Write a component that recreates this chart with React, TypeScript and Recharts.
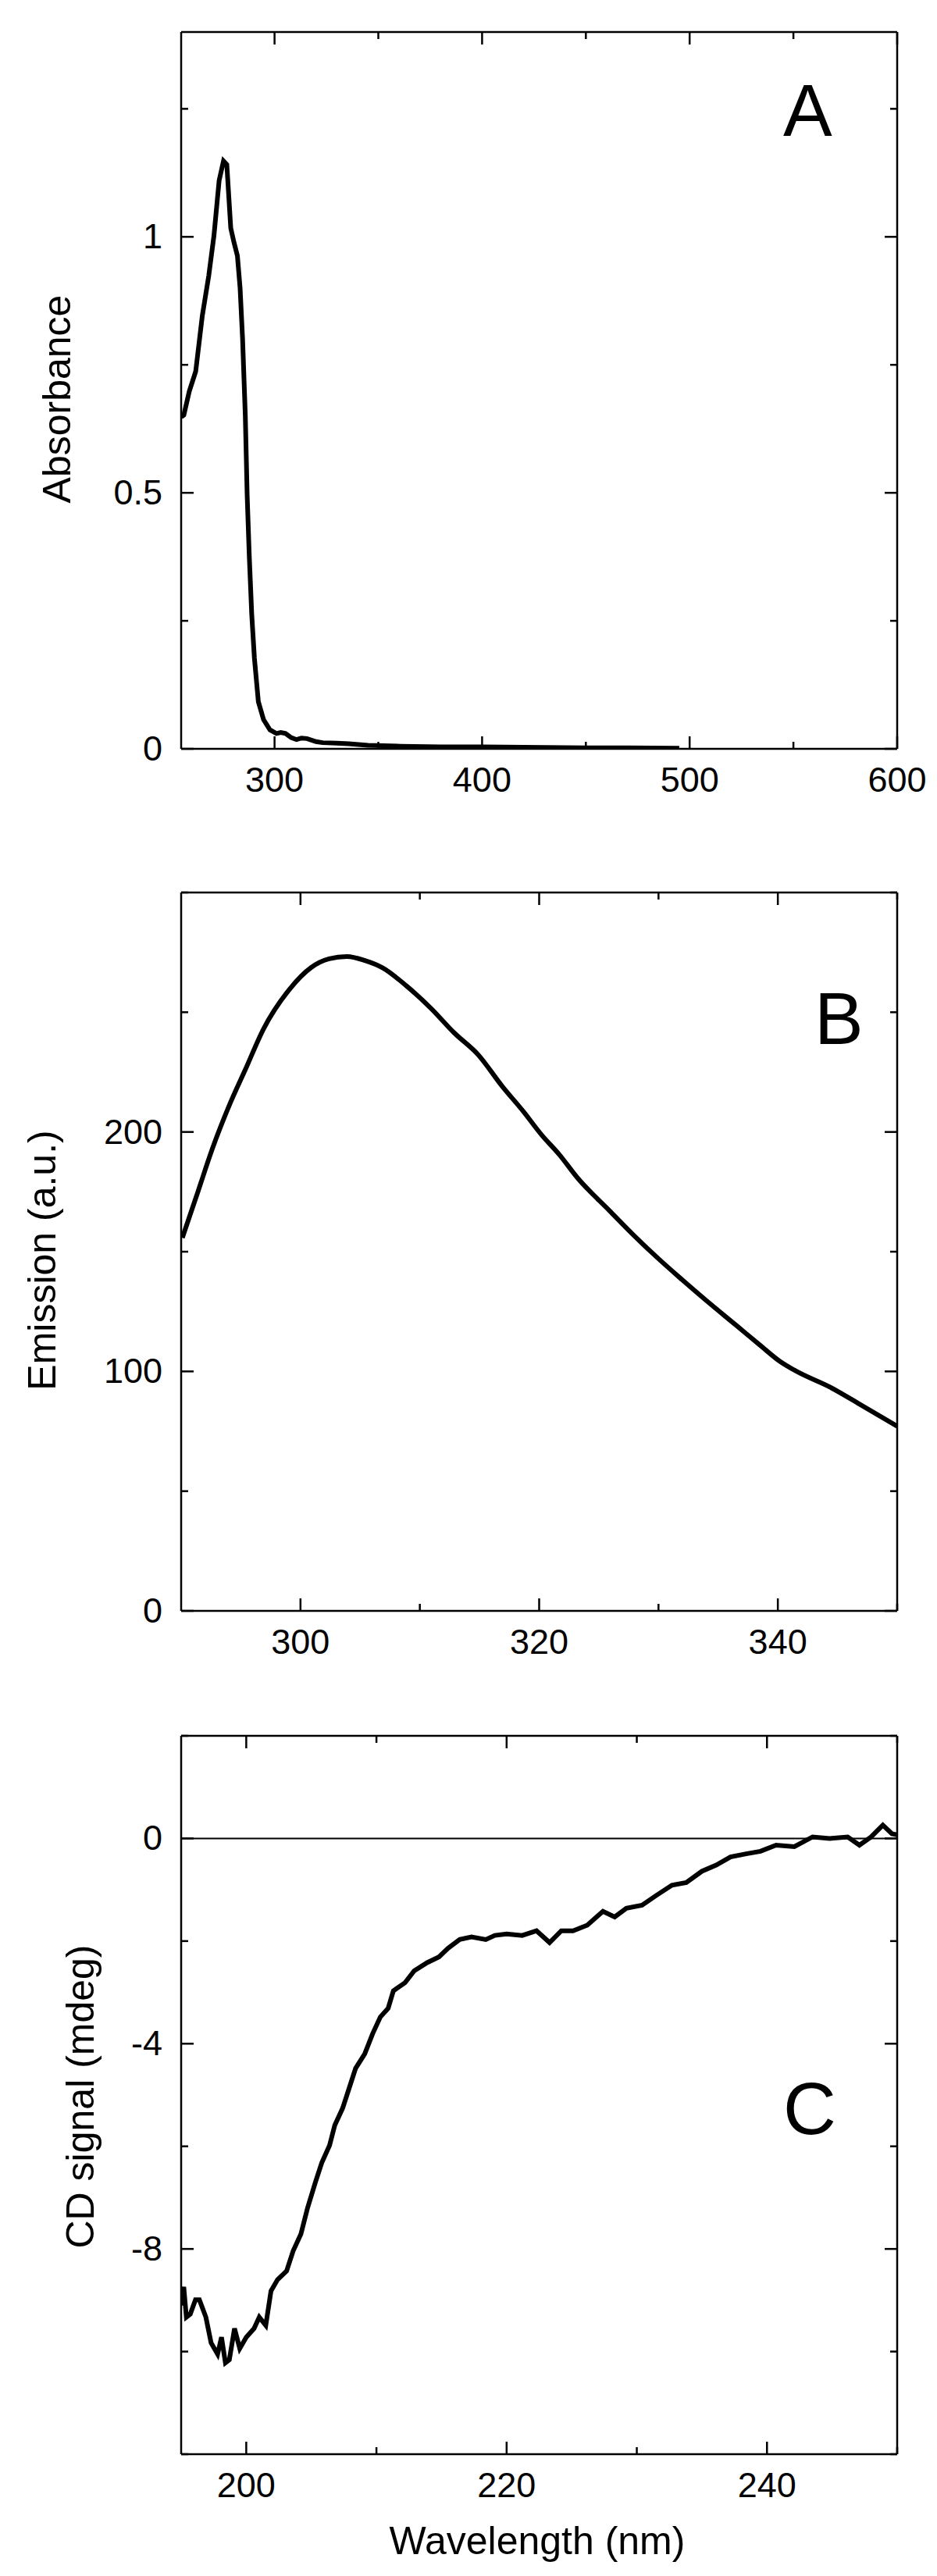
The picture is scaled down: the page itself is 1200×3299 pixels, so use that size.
import React from 'react';
import { LineChart, Line, XAxis, YAxis, ReferenceLine } from 'recharts';

// panel A - absorbance spectrum
const absWavelength = [255, 256.3, 258.9, 262, 265.2, 268.3, 270.8, 273.3, 275.4, 277.0, 278.9, 280.4, 282.1, 283.4, 284.6, 285.9, 286.8, 287.8, 289.0, 290.3, 292.2, 294.7, 297.8, 300.9, 303, 305.3, 308, 310.6, 313, 315.6, 320, 323.2, 330, 335.8, 345, 360.9, 380, 400, 420, 450, 470, 495];
const absValues = [0.648, 0.652, 0.698, 0.737, 0.846, 0.924, 1.002, 1.11, 1.148, 1.141, 1.017, 0.99, 0.963, 0.9, 0.8, 0.652, 0.496, 0.379, 0.263, 0.177, 0.092, 0.057, 0.037, 0.03, 0.032, 0.03, 0.022, 0.018, 0.021, 0.02, 0.014, 0.012, 0.011, 0.01, 0.007, 0.005, 0.004, 0.004, 0.003, 0.002, 0.002, 0.001];

// panel B - emission spectrum
const emWavelength = [290.1, 291.35, 292.6, 294.1, 295.4, 296.9, 299.1, 300.9, 302.4, 303.9, 305.4, 306.9, 308.9, 310.9, 312.9, 314.9, 316.9, 318.7, 320.2, 321.7, 323.2, 325.9, 327.9, 329.9, 331.95, 334.0, 336.5, 338.5, 340.2, 341.5, 344.5, 347.0, 350];
const emValues = [155.8, 174.2, 192.8, 211.9, 226.3, 243.0, 259.7, 268.7, 272.3, 273.3, 271.6, 268.5, 260.9, 251.8, 241.3, 232.2, 219.1, 208.4, 198.8, 190.5, 180.9, 167.1, 157.0, 147.5, 138.4, 129.6, 119.3, 111.0, 104.1, 100.2, 93.1, 85.9, 77.1];

// panel C - CD spectrum
const cdWavelength = [195, 195.2, 195.4, 195.7, 196.1, 196.4, 196.9, 197.3, 197.8, 198.1, 198.4, 198.7, 199.1, 199.5, 200.0, 200.6, 201.0, 201.5, 201.9, 202.4, 203.1, 203.6, 204.2, 204.7, 205.3, 205.8, 206.4, 206.8, 207.4, 207.9, 208.4, 209.1, 209.7, 210.3, 210.9, 211.3, 212.2, 212.9, 213.9, 214.8, 215.5, 216.4, 217.3, 218.4, 219.1, 220.0, 221.2, 222.3, 223.3, 224.2, 225.1, 226.2, 227.4, 228.3, 229.2, 230.4, 231.5, 232.7, 233.8, 235.0, 236.1, 237.2, 238.4, 239.5, 240.7, 242.1, 243.5, 244.8, 246.2, 247.1, 248.0, 248.9, 249.6, 250];
const cdValues = [-9.1, -8.74, -9.33, -9.27, -8.99, -8.99, -9.33, -9.83, -10.05, -9.72, -10.22, -10.16, -9.55, -9.94, -9.72, -9.55, -9.33, -9.49, -8.82, -8.6, -8.43, -8.04, -7.71, -7.21, -6.71, -6.32, -5.98, -5.59, -5.26, -4.87, -4.48, -4.2, -3.81, -3.48, -3.31, -2.97, -2.81, -2.58, -2.42, -2.31, -2.14, -1.97, -1.92, -1.97, -1.89, -1.86, -1.89, -1.8, -2.03, -1.8, -1.8, -1.69, -1.42, -1.53, -1.36, -1.3, -1.11, -0.91, -0.86, -0.64, -0.52, -0.36, -0.3, -0.25, -0.13, -0.16, 0.03, 0.0, 0.03, -0.13, 0.03, 0.26, 0.09, 0.07];

// ticks
const absXMajor = [300, 400, 500, 600];
const absXMinor = [350, 450, 550];
const absYMajor = [0, 0.5, 1];
const absYMinor = [0.25, 0.75, 1.25];
const emXMajor = [300, 320, 340];
const emXMinor = [310, 330, 350];
const emYMajor = [0, 100, 200];
const emYMinor = [50, 150, 250, 300];
const cdXMajor = [200, 220, 240];
const cdXMinor = [210, 230, 250];
const cdYMajor = [0, -4, -8];
const cdYMinor = [2, -2, -6, -10, -12];

const absData = absWavelength.map((x, i) => ({ x, y: absValues[i] }));
const emData = emWavelength.map((x, i) => ({ x, y: emValues[i] }));
const cdData = cdWavelength.map((x, i) => ({ x, y: cdValues[i] }));

const FONT = '"Liberation Sans", Arial, sans-serif';
const W = 1200;
const PLOT_LEFT = 232;
const PLOT_RIGHT = 1149;
const Y_AXIS_W = 100;
const X_AXIS_H = 60;

type Side = 'bottom' | 'top' | 'left' | 'right';

// draws inward tick marks (long for major, short for minor) plus outer labels
const makeTick = (side: Side, majors: number[], labelled: boolean) => (props: any) => {
  const { x, y, payload } = props;
  const v = payload.value;
  const major = majors.some((m) => Math.abs(m - v) < 1e-9);
  const len = major ? 16 : 9;
  let x2 = x;
  let y2 = y;
  if (side === 'bottom') y2 = y - len;
  if (side === 'top') y2 = y + len;
  if (side === 'left') x2 = x + len;
  if (side === 'right') x2 = x - len;
  let label = null;
  if (labelled && major) {
    if (side === 'bottom') {
      label = (
        <text x={x} y={y + 55} textAnchor="middle" fontSize={45} fontFamily={FONT} fill="#000">
          {String(v)}
        </text>
      );
    } else if (side === 'left') {
      label = (
        <text x={x - 24} y={y + 15} textAnchor="end" fontSize={45} fontFamily={FONT} fill="#000">
          {String(v)}
        </text>
      );
    }
  }
  return (
    <g>
      <line x1={x} y1={y} x2={x2} y2={y2} stroke="#000" strokeWidth={2.5} />
      {label}
    </g>
  );
};

const axisLine = { stroke: '#000', strokeWidth: 2.5 };

interface PanelProps {
  data: { x: number; y: number }[];
  height: number;
  top: number;
  bottom: number;
  xDomain: [number, number];
  yDomain: [number, number];
  xMajor: number[];
  xMinor: number[];
  yMajor: number[];
  yMinor: number[];
  smooth?: boolean;
  zeroLine?: boolean;
}

const Panel: React.FC<PanelProps> = ({ data, height, top, bottom, xDomain, yDomain, xMajor, xMinor, yMajor, yMinor, smooth, zeroLine }) => {
  const xTicks = [...xMajor, ...xMinor].sort((a, b) => a - b);
  const yTicks = [...yMajor, ...yMinor].sort((a, b) => a - b);
  return (
    <LineChart
      width={W}
      height={height}
      data={data}
      margin={{ top: top - 1, right: W - PLOT_RIGHT - 1, bottom: bottom - X_AXIS_H, left: PLOT_LEFT - Y_AXIS_W }}
    >
      <XAxis
        dataKey="x"
        type="number"
        domain={xDomain}
        allowDataOverflow
        ticks={xTicks}
        interval={0}
        height={X_AXIS_H}
        tickSize={0}
        tickMargin={0}
        tickLine={false}
        axisLine={axisLine}
        tick={makeTick('bottom', xMajor, true)}
      />
      <XAxis
        xAxisId="top"
        orientation="top"
        dataKey="x"
        type="number"
        domain={xDomain}
        allowDataOverflow
        ticks={xTicks}
        interval={0}
        height={1}
        tickSize={0}
        tickMargin={0}
        tickLine={false}
        axisLine={axisLine}
        tick={makeTick('top', xMajor, false)}
      />
      <YAxis
        type="number"
        domain={yDomain}
        allowDataOverflow
        ticks={yTicks}
        interval={0}
        width={Y_AXIS_W}
        tickSize={0}
        tickMargin={0}
        tickLine={false}
        axisLine={axisLine}
        tick={makeTick('left', yMajor, true)}
      />
      <YAxis
        yAxisId="right"
        orientation="right"
        type="number"
        domain={yDomain}
        allowDataOverflow
        ticks={yTicks}
        interval={0}
        width={1}
        tickSize={0}
        tickMargin={0}
        tickLine={false}
        axisLine={axisLine}
        tick={makeTick('right', yMajor, false)}
      />
      {zeroLine && <ReferenceLine y={0} stroke="#000" strokeWidth={2} />}
      <Line
        type={smooth ? 'monotone' : 'linear'}
        dataKey="y"
        stroke="#000"
        strokeWidth={6}
        dot={false}
        isAnimationActive={false}
      />
    </LineChart>
  );
};

const textStyle: React.CSSProperties = {
  position: 'absolute',
  fontFamily: FONT,
  color: '#000',
  lineHeight: 1,
  whiteSpace: 'nowrap',
};

const YTitle: React.FC<{ text: string; cx: number; cy: number }> = ({ text, cx, cy }) => (
  <div
    style={{
      ...textStyle,
      fontSize: 50,
      left: cx,
      top: cy,
      transform: 'translate(-50%, -50%) rotate(-90deg)',
    }}
  >
    {text}
  </div>
);

const PanelLetter: React.FC<{ text: string; left: number; top: number }> = ({ text, left, top }) => (
  <div style={{ ...textStyle, fontSize: 94, left, top }}>{text}</div>
);

export default function App() {
  return (
    <div style={{ position: 'absolute', left: 0, top: 0, width: W, height: 3299, background: '#fff', overflow: 'hidden' }}>
      <div style={{ position: 'absolute', left: 0, top: 0 }}>
        <Panel
          data={absData}
          height={1100}
          top={41}
          bottom={141}
          xDomain={[255, 600]}
          yDomain={[0, 1.4]}
          xMajor={absXMajor}
          xMinor={absXMinor}
          yMajor={absYMajor}
          yMinor={absYMinor}
        />
      </div>
      <div style={{ position: 'absolute', left: 0, top: 1100 }}>
        <Panel
          data={emData}
          height={1050}
          top={43}
          bottom={87}
          xDomain={[290, 350]}
          yDomain={[0, 300]}
          xMajor={emXMajor}
          xMinor={emXMinor}
          yMajor={emYMajor}
          yMinor={emYMinor}
          smooth
        />
      </div>
      <div style={{ position: 'absolute', left: 0, top: 2150 }}>
        <Panel
          data={cdData}
          height={1149}
          top={73}
          bottom={156}
          xDomain={[195, 250]}
          yDomain={[-12, 2]}
          xMajor={cdXMajor}
          xMinor={cdXMinor}
          yMajor={cdYMajor}
          yMinor={cdYMinor}
          zeroLine
        />
      </div>

      <YTitle text="Absorbance" cx={73} cy={511} />
      <YTitle text="Emission (a.u.)" cx={54} cy={1614} />
      <YTitle text="CD signal (mdeg)" cx={103} cy={2685} />
      <div style={{ ...textStyle, fontSize: 50, left: 688, top: 3229, transform: 'translateX(-50%)' }}>
        Wavelength (nm)
      </div>

      <PanelLetter text="A" left={1003} top={95} />
      <PanelLetter text="B" left={1043} top={1258} />
      <PanelLetter text="C" left={1003} top={2654} />
    </div>
  );
}
